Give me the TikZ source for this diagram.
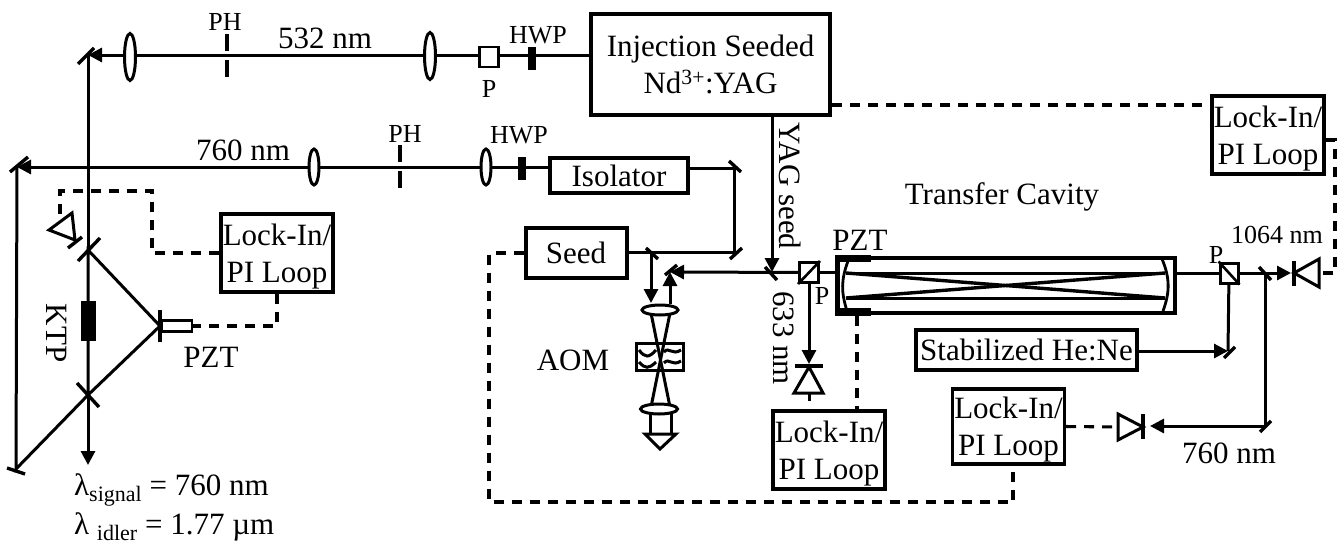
\documentclass[tikz,border=0pt]{standalone}
\usepackage{fontspec}
\setmainfont{Liberation Serif}
\usetikzlibrary{arrows.meta,shapes.geometric,calc}
\newcommand{\fsA}{\fontsize{31}{37}\selectfont}
\newcommand{\fsB}{\fontsize{26}{28}\selectfont}
\tikzset{
  x=1pt,y=-1pt,
  beam/.style={line width=3pt},
  arr/.style={beam,-{Triangle[length=14pt,width=14pt]}},
  ctrl/.style={line width=3.05pt,dash pattern=on 10pt off 8pt},
  mir/.style={line width=3.4pt},
  box/.style={draw,line width=4pt,fill=white,inner sep=0pt,align=center,font=\fsA},
  lockbox/.style={box,line width=3.2pt,minimum width=112pt,minimum height=78pt,font=\fsA,text depth=0pt},
  lensv/.style={draw,ellipse,fill=white,line width=3pt,inner sep=0pt},
  lab/.style={inner sep=0pt,font=\fsA},
  labs/.style={inner sep=0pt,font=\fsB},
  ph/.style={line width=3.2pt,dash pattern=on 17pt off 9pt},
  hwp/.style={fill=black,draw=none,inner sep=0pt},
  det/.style={draw,line width=3pt,fill=white,line join=miter},
}
\begin{document}
\begin{tikzpicture}
\useasboundingbox (0,0) rectangle (1340,546);
% --- coordinates of optics
\coordinate (mA) at (88,55);
\coordinate (mB) at (17,167);
\coordinate (rU) at (88,250);
\coordinate (rL) at (88,395);
\coordinate (rP) at (160,326);
\coordinate (rF) at (16,469);
\coordinate (outE) at (88,465);
\coordinate (mIso) at (734,168);
\coordinate (mSeedR) at (734,252);
\coordinate (mSeedL) at (651,252);
\coordinate (mRet) at (670,272);
\coordinate (mYag) at (772,272);
\coordinate (mOut) at (1265,273);
\coordinate (mLow) at (1265,426);
\coordinate (mHe) at (1228,351);
% --- boxes
\node[box,minimum width=239pt,minimum height=101pt] (yag) at (710.5,64.5) {Injection Seeded\\Nd\textsuperscript{3+}:YAG};
\node[box,minimum width=138pt,minimum height=35pt] (iso) at (619,175.5) {Isolator};
\node[box,minimum width=101pt,minimum height=50pt] (seed) at (576,253) {Seed};
\node[box,line width=3.2pt,minimum width=221pt,minimum height=40pt] (hene) at (1026.5,350) {Stabilized He:Ne};
\node[lockbox] (lockA) at (277,253) {Lock-In/\\PI Loop};
\node[lockbox] (lockB) at (829,450) {Lock-In/\\PI Loop};
\node[lockbox,minimum height=75pt] (lockC) at (1008.5,426.5) {Lock-In/\\PI Loop};
\node[lockbox] (lockD) at (1268,135) {Lock-In/\\PI Loop};
% --- dashed control lines
\draw[ctrl] (lockA.west) -- (152,253) -- (152,191) -- (60,191) -- (60,218);
\draw[ctrl] (lockA.south) -- (277,326) -- (192,326);
\draw[ctrl] (seed.west) -- (489,253) -- (489,502) -- (1013,502) -- (lockC.south -| 1013,464);
\draw[ctrl] (857,316) -- (857,411);
\draw[ctrl] (lockC.east) -- (1118,427);
\draw[ctrl] (yag.east |- 0,105) -- (lockD.west |- 0,105);
\draw[ctrl] (lockD.east |- 0,140) -- (1335,140) -- (1335,273) -- (1320,273);
% --- beams
\draw[arr] (yag.west |- mA) -- (mA);
\draw[beam] (mA) -- (rU);
\draw[arr] (iso.west |- mB) -- (mB);
\draw[beam] (mB) -- (rF) -- (rL) -- (rP) -- (rU) -- (rL);
\draw[arr] (rL) -- (outE);
\draw[beam] (iso.east |- mIso) -- (mIso) -- (mSeedR) -- (seed.east |- mSeedR);
\draw[arr] (mSeedL) -- (651,303);
\draw[arr] (670,304) -- (mRet);
\draw[arr] (yag.south -| mYag) -- (mYag);
\coordinate (cubeA) at (809,272.5);
\coordinate (cubeB) at (1229,273);
\draw[arr] (cubeA) -- (mRet);
\draw[arr] (cubeA) -- (809,364);
\draw[beam] (cubeA) -- (837,272.5);
\draw[beam] (1175,273) -- (cubeB);
\draw[arr] (cubeB) -- (1291,273);
\draw[beam] (cubeB) -- (mHe);
\draw[arr] (hene.east |- mHe) -- (mHe);
\draw[beam] (mOut) -- (mLow);
\draw[arr] (mLow) -- (1150,426);
% --- mirrors
\draw[mir] (78,64) -- (94,48);
\draw[mir] (10,172) -- (28,157);
\draw[mir] (78,261) -- (100,238);
\draw[mir] (77,383) -- (99,407);
\draw[mir] (7,468) -- (25,474);
\draw[mir] (729,161) -- (741,172);
\draw[mir] (730,259) -- (742,248);
\draw[mir] (646,248) -- (658,259);
\draw[mir] (665,275) -- (677,265);
\draw[mir] (765,267) -- (777,280);
\draw[mir] (1259,267) -- (1271,280);
\draw[mir] (1224,358) -- (1235,347);
\draw[mir] (1260,432) -- (1271,421);
% --- lenses, pinholes, wave plates
\node[lensv,minimum width=11pt,minimum height=47pt] (l1) at (130,57) {};
\node[lensv,minimum width=11pt,minimum height=47pt] (l2) at (430,56) {};
\node[lensv,minimum width=10pt,minimum height=36pt] (l3) at (314,167) {};
\node[lensv,minimum width=10pt,minimum height=36pt] (l4) at (486,167) {};
\draw[ph] (227,34) -- (227,82);
\draw[ph] (400,145) -- (400,196);
\node[hwp,minimum width=8pt,minimum height=23pt] (h1) at (532,58) {};
\node[hwp,minimum width=8pt,minimum height=23pt] (h2) at (522,168) {};
\node[draw,line width=2.8pt,fill=white,minimum width=19pt,minimum height=20pt,inner sep=0pt] (p1) at (489,57) {};
% --- OPO crystal and PZT
\node[hwp,minimum width=15pt,minimum height=40pt] (ktp) at (88,321) {};
\draw[mir,line width=4.5pt] (160,310) -- (160,342);
\node[draw,line width=2.6pt,fill=white,minimum width=30pt,minimum height=11pt,inner sep=0pt] (pzt1) at (177,326) {};
% --- detectors
\draw[det] (49,230) -- (72,213) -- (75,240) -- cycle;
\draw[mir] (68,248) -- (82,237);
\draw[det] (809,367) -- (794,393) -- (823,393) -- cycle;
\draw[mir] (795,366) -- (823,366);
\draw[beam] (809,393) -- (809,401);
\draw[det] (1294,273) -- (1319,259) -- (1319,287) -- cycle;
\draw[mir] (1294,261) -- (1294,286);
\draw[det] (1143,427) -- (1118,414) -- (1118,440) -- cycle;
\draw[mir] (1143,414) -- (1143,439);
% --- AOM optics
\node[draw,line width=3.4pt,minimum width=47pt,minimum height=27pt,inner sep=0pt] (aom) at (660,357) {};
\draw[line width=3pt] (639,350) .. controls (645,358) and (649,358) .. (656,350);
\draw[line width=3pt] (639,362) .. controls (645,369) and (649,369) .. (656,362);
\draw[line width=3pt] (664,352) .. controls (669,346) and (672,356) .. (681,350);
\draw[line width=3pt] (664,363) .. controls (669,357) and (672,367) .. (681,361);
\draw[beam] (651,313) -- (670,407);
\draw[beam] (670,313) -- (651,407);
\node[lensv,minimum width=36pt,minimum height=10pt] (l5) at (660,310) {};
\node[lensv,minimum width=37pt,minimum height=10pt] (l6) at (659,409) {};
\draw[beam] (650,414) -- (650,434);
\draw[beam] (671,414) -- (671,434);
\draw[det] (645,434) -- (676,434) -- (660,449) -- cycle;
% --- cavity
\node[draw,line width=3.4pt,minimum width=338pt,minimum height=55pt,inner sep=0pt] (cav) at (1006,285.5) {};
\draw[line width=3pt] (846,273) -- (1165,273);
\draw[line width=3pt] (846,298) -- (1165,298);
\draw[line width=3.4pt] (846,273) -- (1165,298);
\draw[line width=3.4pt] (846,298) -- (1165,273);
\draw[line width=2.8pt] (848,261) .. controls (841,280) and (841,292) .. (847,311);
\draw[line width=2.8pt] (1162,259) .. controls (1170,278) and (1170,292) .. (1163,311);
\fill (835,255) rectangle (871,262);
\fill (835,308) rectangle (871,316);
\fill (835,255) rectangle (840,316);
% --- beam-splitter cubes (over the beams)
\node[draw,line width=3pt,fill=white,minimum width=19pt,minimum height=20pt,inner sep=0pt] (c1) at (cubeA) {};
\draw[line width=2.6pt] (c1.south west) -- (c1.north east);
\node[draw,line width=3pt,fill=white,minimum width=18pt,minimum height=20pt,inner sep=0pt] (c2) at (cubeB) {};
\draw[line width=2.6pt] (c2.north west) -- (c2.south east);
% --- labels
\node[labs] (tPH1) at (225,22) {PH};
\node[lab] (t532) at (325,38) {532 nm};
\node[labs] (tHWP1) at (538,35) {HWP};
\node[labs] (tP1) at (489,89) {P};
\node[lab] (t760a) at (243,150) {760 nm};
\node[labs] (tPH2) at (405,134) {PH};
\node[labs] (tHWP2) at (519,135) {HWP};
\node[lab,rotate=-90] (tKTP) at (57,333) {KTP};
\node[lab] (tPZT1) at (211,357) {PZT};
\node[lab,anchor=west] (tS) at (74,490) {λ\raisebox{-6pt}{\fontsize{22}{22}\selectfont signal} = 760 nm};
\node[lab,anchor=west] (tI) at (74,527) {λ \raisebox{-6pt}{\fontsize{22}{22}\selectfont idler} = 1.77 µm};
\node[lab,rotate=-90] (tYS) at (790,186) {YAG seed};
\node[lab] (tAOM) at (573,360) {AOM};
\node[labs] (tP2) at (822,296) {P};
\node[lab,rotate=-90] (t633) at (784,338) {633 nm};
\node[lab] (tPZT2) at (860,240) {PZT};
\node[lab] (tTC) at (1002,197) {Transfer Cavity};
\node[labs] (tP3) at (1216,255) {P};
\node[labs] (t1064) at (1277,235) {1064 nm};
\node[lab] (t760b) at (1229,453) {760 nm};
\end{tikzpicture}
\end{document}
